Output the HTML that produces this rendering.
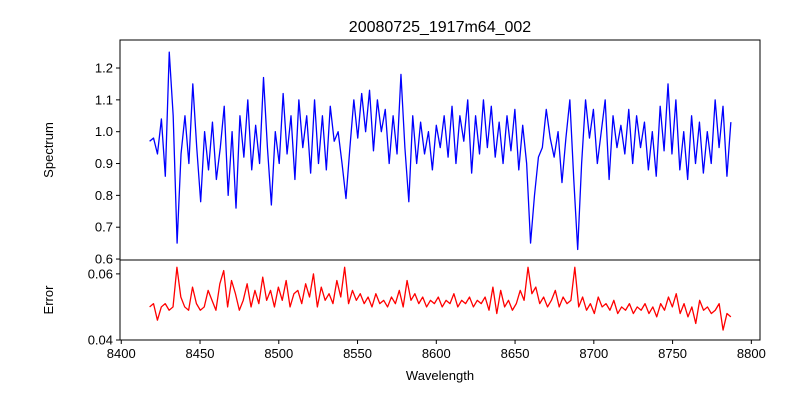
<!DOCTYPE html>
<html><head><meta charset="utf-8"><style>
body{margin:0;background:#fff;}
svg{display:block;font-family:"Liberation Sans","DejaVu Sans",sans-serif;}
</style></head><body>
<svg id="chart" width="800" height="400" viewBox="0 0 800 400"></svg>
<script>
const spectrumValues=[0.97,0.98,0.93,1.04,0.86,1.25,1.05,0.65,0.93,1.05,0.9,1.15,0.95,0.78,1.0,0.88,1.03,0.85,0.95,1.08,0.8,1.0,0.76,1.05,0.92,1.1,0.88,1.02,0.9,1.17,0.95,0.77,1.0,0.9,1.12,0.93,1.05,0.85,1.1,0.95,1.05,0.87,1.1,0.9,1.05,0.88,1.08,0.97,1.0,0.9,0.79,0.95,1.1,0.98,1.12,1.0,1.13,0.94,1.1,1.0,1.07,0.9,1.05,0.93,1.18,0.95,0.78,1.05,0.9,1.03,0.93,1.0,0.88,1.02,0.95,1.05,0.92,1.08,0.9,1.05,0.97,1.1,0.87,1.05,0.93,1.1,0.95,1.08,0.92,1.03,0.9,1.05,0.94,1.07,0.88,1.02,0.9,0.65,0.8,0.92,0.95,1.07,0.98,0.92,1.0,0.84,0.98,1.1,0.85,0.63,0.9,1.1,0.98,1.07,0.9,1.0,1.1,0.85,1.05,0.95,1.02,0.93,1.07,0.9,1.05,0.95,1.03,0.88,1.0,0.86,1.08,0.94,1.15,0.93,1.1,0.88,1.0,0.85,1.05,0.9,1.03,0.87,1.0,0.9,1.1,0.95,1.08,0.86,1.03];
const errorValues=[0.050,0.051,0.046,0.050,0.051,0.049,0.050,0.062,0.053,0.050,0.049,0.056,0.051,0.049,0.050,0.055,0.052,0.049,0.057,0.061,0.050,0.058,0.054,0.049,0.052,0.057,0.050,0.055,0.051,0.059,0.052,0.055,0.050,0.056,0.052,0.058,0.050,0.054,0.055,0.051,0.057,0.053,0.060,0.050,0.056,0.052,0.054,0.051,0.058,0.053,0.062,0.051,0.055,0.052,0.054,0.051,0.053,0.050,0.054,0.051,0.052,0.050,0.053,0.051,0.055,0.050,0.058,0.052,0.054,0.051,0.053,0.050,0.052,0.051,0.053,0.050,0.052,0.051,0.054,0.050,0.052,0.051,0.053,0.050,0.052,0.051,0.053,0.049,0.056,0.048,0.055,0.050,0.052,0.049,0.051,0.055,0.052,0.062,0.054,0.056,0.051,0.053,0.050,0.052,0.055,0.050,0.053,0.051,0.052,0.062,0.050,0.053,0.049,0.051,0.048,0.053,0.050,0.051,0.049,0.052,0.048,0.050,0.049,0.051,0.048,0.050,0.049,0.051,0.048,0.050,0.047,0.051,0.049,0.053,0.050,0.054,0.048,0.051,0.047,0.050,0.045,0.052,0.049,0.050,0.048,0.049,0.051,0.043,0.048,0.047];
const wavelengthStart=8418, wavelengthEnd=8787;
const xTicks=[8400,8450,8500,8550,8600,8650,8700,8750,8800];
const specTicks=[0.6,0.7,0.8,0.9,1.0,1.1,1.2];
const errTicks=[0.04,0.06];

const NS="http://www.w3.org/2000/svg";
const svg=document.getElementById('chart');
const L=120,R=760,T1=40,B1=260,T2=260,B2=340;
const xMin=8399.2,xMax=8805.5;
const sx=w=>L+(w-xMin)/(xMax-xMin)*(R-L);
const sy1=v=>B1-(v-0.597)/(1.288-0.597)*(B1-T1);
const sy2=v=>B2-(v-0.04)/(0.0642-0.04)*(B2-T2);
function el(t,a,txt){const e=document.createElementNS(NS,t);for(const k in a)e.setAttribute(k,a[k]);if(txt!==undefined)e.textContent=txt;svg.appendChild(e);return e;}
function series(vals,sy,color,name){
  const n=vals.length,st=(wavelengthEnd-wavelengthStart)/(n-1);
  const pts=vals.map((v,i)=>sx(wavelengthStart+i*st).toFixed(2)+','+sy(v).toFixed(2)).join(' ');
  const p=el('polyline',{points:pts,fill:'none',stroke:color,'stroke-width':1.3,'stroke-linejoin':'round'});
  
  
}
series(spectrumValues,sy1,'#0000ff','spectrum-line');
series(errorValues,sy2,'#ff0000','error-line');
const f1=el('rect',{x:L,y:T1,width:R-L,height:B1-T1,fill:'none',stroke:'#000','stroke-width':1});


const f2=el('rect',{x:L,y:T2,width:R-L,height:B2-T2,fill:'none',stroke:'#000','stroke-width':1});


specTicks.forEach(v=>{const y=sy1(v);el('line',{x1:L-4,x2:L,y1:y,y2:y,stroke:'#000'});
  const t=el('text',{x:L-7,y:y+4.5,'text-anchor':'end','font-size':13},v.toFixed(1));
  
  });
errTicks.forEach(v=>{const y=sy2(v);el('line',{x1:L-4,x2:L,y1:y,y2:y,stroke:'#000'});
  const t=el('text',{x:L-7,y:y+4.5,'text-anchor':'end','font-size':13},v.toFixed(2));
  
  });
xTicks.forEach(v=>{const x=sx(v);el('line',{x1:x,x2:x,y1:B2,y2:B2+4,stroke:'#000'});
  const t=el('text',{x:x,y:B2+18,'text-anchor':'middle','font-size':13},v);
  
  });
const tt=el('text',{x:440,y:32,'text-anchor':'middle','font-size':16},'20080725_1917m64_002');


const xl=el('text',{x:440,y:380,'text-anchor':'middle','font-size':13},'Wavelength');


const yl1=el('text',{x:0,y:0,'text-anchor':'middle','font-size':13,transform:'translate(53,150) rotate(-90)'},'Spectrum');


const yl2=el('text',{x:0,y:0,'text-anchor':'middle','font-size':13,transform:'translate(53,300) rotate(-90)'},'Error');


</script>
</body></html>
